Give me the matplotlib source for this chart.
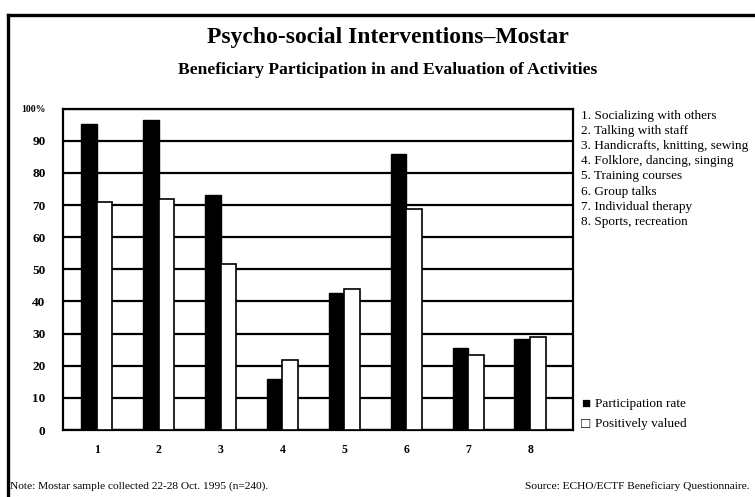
import numpy as np
from matplotlib import pyplot as plt
from matplotlib.lines import Line2D

activities = ["1. Socializing with others", "2. Talking with staff",
              "3. Handicrafts, knitting, sewing", "4. Folklore, dancing, singing",
              "5. Training courses", "6. Group talks",
              "7. Individual therapy", "8. Sports, recreation"]
groups = ["1", "2", "3", "4", "5", "6", "7", "8"]
participation = [95.2, 96.4, 73.1, 15.8, 42.6, 85.8, 25.6, 28.3]
valued = [70.8, 71.9, 51.7, 21.7, 43.8, 68.7, 23.3, 29.0]
yticks = [0, 10, 20, 30, 40, 50, 60, 70, 80, 90, 100]
ylabels = ["0", "10", "20", "30", "40", "50", "60", "70", "80", "90", "100%"]

plt.rcParams['font.family'] = ['Liberation Serif', 'DejaVu Serif']

fig = plt.figure(figsize=(7.55, 4.97), dpi=100)
ax = fig.add_axes([0.0841, 0.1348, 0.6744, 0.6467])

x = np.arange(1, 9)
w = 0.255
ax.bar(x - w / 2, participation, w, color='black', edgecolor='black', linewidth=1.0, zorder=3)
ax.bar(x + w / 2, valued, w, color='white', edgecolor='black', linewidth=1.2, zorder=3)

ax.set_xlim(0.465, 8.684)
ax.set_ylim(0, 100)
ax.set_yticks(yticks)
ax.set_yticklabels(ylabels, fontsize=9.5, fontweight='bold')
ax.get_yticklabels()[-1].set_fontsize(7)
ax.set_xticks(x)
ax.set_xticklabels(groups, fontsize=8.5, fontweight='bold')
ax.tick_params(axis='x', length=0, pad=10)
ax.tick_params(axis='y', length=0, pad=13)
ax.yaxis.grid(True, color='black', linewidth=1.6, zorder=1)
ax.set_axisbelow(True)
for s in ax.spines.values():
    s.set_linewidth(1.6)

fig.text(0.514, 0.925, "Psycho-social Interventions\u2013Mostar", ha='center', va='center',
         fontsize=17, fontweight='bold')
fig.text(0.514, 0.859, "Beneficiary Participation in and Evaluation of Activities",
         ha='center', va='center', fontsize=12.6, fontweight='bold')

for i, a in enumerate(activities):
    fig.text(0.769, 1 - (115.7 + i * 15.2) / 497, a, ha='left', va='center', fontsize=9.5)

fig.text(0.770, 1 - 404 / 497, "\u25a0", ha='left', va='center', fontsize=11)
fig.text(0.788, 1 - 404 / 497, "Participation rate", ha='left', va='center', fontsize=9.5)
fig.text(0.770, 1 - 424 / 497, "\u25a1", ha='left', va='center', fontsize=11)
fig.text(0.788, 1 - 424 / 497, "Positively valued", ha='left', va='center', fontsize=9.5)

fig.text(0.013, 1 - 486 / 497, "Note: Mostar sample collected 22-28 Oct. 1995 (n=240).",
         ha='left', va='center', fontsize=8.2)
fig.text(0.993, 1 - 486 / 497, "Source: ECHO/ECTF Beneficiary Questionnaire.",
         ha='right', va='center', fontsize=8.2)

fig.add_artist(Line2D([7.5 / 755, 1], [1 - 14.5 / 497, 1 - 14.5 / 497], color='black', linewidth=2.4))
fig.add_artist(Line2D([7.5 / 755, 7.5 / 755], [0, 1 - 14.5 / 497], color='black', linewidth=2.4))

fig.savefig("out.png", dpi=100)
